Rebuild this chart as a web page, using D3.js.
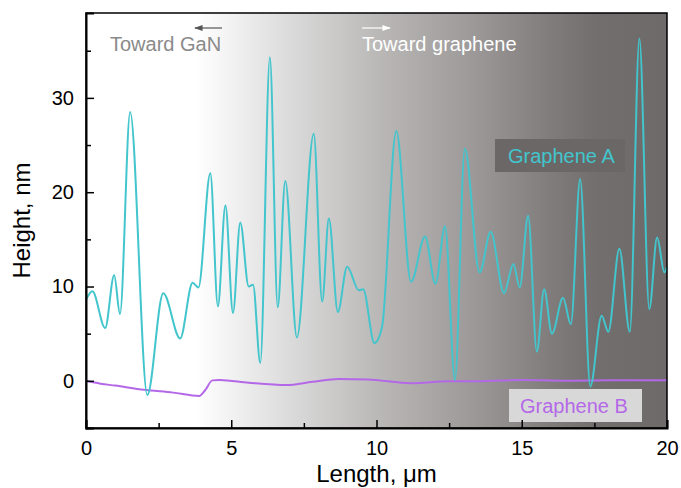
<!DOCTYPE html>
<html>
<head>
<meta charset="utf-8">
<script src="https://cdn.jsdelivr.net/npm/d3@7/dist/d3.min.js"></script>
<style>
  html, body { margin: 0; padding: 0; background: #fff; }
  svg { display: block; font-family: Arial, "Liberation Sans", sans-serif; }
</style>
</head>
<body>
<svg id="chart" width="681" height="488"></svg>
<script>
// Height profile along the line scan (length in µm, height in nm)
const grapheneALength = [0, 0.22, 0.66, 0.97, 1.17, 1.52, 2.11, 2.66, 3.24, 3.67, 3.87, 4.28, 4.54, 4.80, 5.06, 5.31, 5.60, 5.75, 6.00, 6.33, 6.60, 6.86, 7.26, 7.84, 8.13, 8.36, 8.67, 8.99, 9.39, 9.54, 9.93, 10.19, 10.68, 11.19, 11.67, 12.03, 12.36, 12.70, 13.04, 13.55, 13.93, 14.39, 14.71, 14.93, 15.22, 15.52, 15.77, 16.04, 16.42, 16.69, 17.01, 17.36, 17.75, 17.98, 18.36, 18.72, 19.05, 19.39, 19.66, 19.91, 20];
const grapheneAHeight = [8.6, 9.5, 5.6, 11.2, 7.1, 28.5, -1.5, 9.3, 4.5, 10.4, 9.9, 22.0, 7.9, 18.6, 7.2, 16.8, 10.0, 10.2, 1.9, 34.3, 7.8, 21.2, 4.6, 26.2, 8.4, 17.2, 7.3, 12.1, 9.6, 9.7, 4.0, 5.7, 26.5, 10.5, 15.3, 10.3, 16.4, 0.1, 24.6, 11.5, 15.8, 9.3, 12.4, 9.9, 17.5, 3.1, 9.7, 5.0, 8.8, 6.0, 21.4, -0.6, 6.9, 5.2, 14.0, 5.2, 36.3, 7.6, 15.2, 11.5, 12.1];

const grapheneBLength = [0, 0.5, 1, 2, 3, 3.9, 4.1, 4.35, 4.6, 5.6, 6.9, 7.8, 8.7, 9.7, 11.2, 12.5, 13.5, 15, 16.5, 18, 20];
const grapheneBHeight = [0, -0.3, -0.5, -0.95, -1.25, -1.6, -1.0, 0.05, 0.1, -0.2, -0.45, -0.1, 0.2, 0.15, -0.25, -0.05, -0.05, 0.1, 0.0, 0.05, 0.05];

const xTicks = [0, 5, 10, 15, 20];
const xMinorTicks = [2.5, 7.5, 12.5, 17.5];
const yTicks = [0, 10, 20, 30];
const yMinorTicks = [-5, 5, 15, 25, 35];

const svg = d3.select("#chart");
const margin = { left: 86, right: 14, top: 13, bottom: 60 };
const W = 681, H = 488;
const plotW = W - margin.left - margin.right;
const plotH = H - margin.top - margin.bottom;

const x = d3.scaleLinear().domain([0, 20]).range([margin.left, margin.left + plotW]);
const y = d3.scaleLinear().domain([-5, 39]).range([margin.top + plotH, margin.top]);

// Shaded background: white on the GaN side fading to grey toward graphene
const defs = svg.append("defs");
const grad = defs.append("linearGradient").attr("id", "bg").attr("x1", "0").attr("x2", "1").attr("y1", "0").attr("y2", "0");
[[0, "#ffffff"], [0.19, "#ffffff"], [0.32, "#e2e2e2"], [0.5, "#bbb9b8"], [0.66, "#9d9a99"], [0.8, "#807c7b"], [0.88, "#726e6d"], [1, "#6e6a69"]]
  .forEach(([o, c]) => grad.append("stop").attr("offset", o).attr("stop-color", c));

svg.append("rect")
  .attr("x", x(0)).attr("y", y(39))
  .attr("width", x(20) - x(0)).attr("height", y(-5) - y(39))
  .attr("fill", "url(#bg)");

// Direction notes
const arrowY = 28;
defs.append("marker").attr("id", "headDark").attr("viewBox", "0 0 10 10").attr("refX", 9).attr("refY", 5)
  .attr("markerWidth", 7).attr("markerHeight", 7).attr("orient", "auto")
  .append("path").attr("d", "M0,1.5 L10,5 L0,8.5 Z").attr("fill", "#555");
defs.append("marker").attr("id", "headLight").attr("viewBox", "0 0 10 10").attr("refX", 9).attr("refY", 5)
  .attr("markerWidth", 7).attr("markerHeight", 7).attr("orient", "auto")
  .append("path").attr("d", "M0,1.5 L10,5 L0,8.5 Z").attr("fill", "#fff");

svg.append("line").attr("x1", 222).attr("x2", 195).attr("y1", arrowY).attr("y2", arrowY)
  .attr("stroke", "#555").attr("stroke-width", 1.2).attr("marker-end", "url(#headDark)");
svg.append("text").attr("x", 110).attr("y", 51).attr("font-size", 20).attr("fill", "#8a8a8a").text("Toward GaN");

svg.append("line").attr("x1", 362).attr("x2", 390).attr("y1", arrowY).attr("y2", arrowY)
  .attr("stroke", "#fff").attr("stroke-width", 1.2).attr("marker-end", "url(#headLight)");
svg.append("text").attr("x", 362).attr("y", 51).attr("font-size", 20).attr("fill", "#ffffff").text("Toward graphene");

// Profiles
const lineGen = d3.line().curve(d3.curveMonotoneX);
const ptsA = grapheneALength.map((d, i) => [x(d), y(grapheneAHeight[i])]);
const ptsB = grapheneBLength.map((d, i) => [x(d), y(grapheneBHeight[i])]);

svg.append("path").attr("d", lineGen(ptsB)).attr("fill", "none")
  .attr("stroke", "#b468e8").attr("stroke-width", 2);
svg.append("path").attr("d", lineGen(ptsA)).attr("fill", "none")
  .attr("stroke", "#42c5cc").attr("stroke-width", 2);

// Series labels
svg.append("rect").attr("x", 495).attr("y", 139).attr("width", 130).attr("height", 33).attr("fill", "#6b6767");
svg.append("text").attr("x", 508).attr("y", 163).attr("font-size", 20).attr("fill", "#42c5cc").text("Graphene A");

svg.append("rect").attr("x", 509).attr("y", 389).attr("width", 133).attr("height", 33).attr("fill", "#d9d8d8");
svg.append("text").attr("x", 520).attr("y", 413).attr("font-size", 20).attr("fill", "#b468e8").text("Graphene B");

// Frame
svg.append("rect")
  .attr("x", x(0)).attr("y", y(39))
  .attr("width", x(20) - x(0)).attr("height", y(-5) - y(39))
  .attr("fill", "none").attr("stroke", "#000").attr("stroke-width", 1.5);

// Axes with inward ticks
const xAxis = d3.axisBottom(x).tickValues(xTicks).tickSize(-8).tickPadding(13).tickFormat(d3.format("d"));
const gx = svg.append("g").attr("transform", `translate(0,${y(-5)})`).call(xAxis);
gx.select(".domain").attr("stroke-width", 2);
gx.selectAll(".tick line").attr("stroke-width", 1.5);
gx.selectAll("text").attr("font-size", 20).attr("fill", "#000").attr("font-family", "Arial, 'Liberation Sans', sans-serif");
svg.append("g").attr("transform", `translate(0,${y(-5)})`)
  .call(d3.axisBottom(x).tickValues(xMinorTicks).tickSize(-5).tickFormat(""))
  .call(g => g.select(".domain").remove())
  .selectAll(".tick line").attr("stroke-width", 1.5);

const yAxis = d3.axisLeft(y).tickValues(yTicks).tickSize(-8).tickPadding(12).tickFormat(d3.format("d"));
const gy = svg.append("g").attr("transform", `translate(${x(0)},0)`).call(yAxis);
gy.select(".domain").attr("stroke-width", 2);
gy.selectAll(".tick line").attr("stroke-width", 1.5);
gy.selectAll("text").attr("font-size", 20).attr("fill", "#000").attr("font-family", "Arial, 'Liberation Sans', sans-serif");
svg.append("g").attr("transform", `translate(${x(0)},0)`)
  .call(d3.axisLeft(y).tickValues(yMinorTicks).tickSize(-5).tickFormat(""))
  .call(g => g.select(".domain").remove())
  .selectAll(".tick line").attr("stroke-width", 1.5);

// Axis titles
svg.append("text").attr("x", x(10)).attr("y", 482).attr("text-anchor", "middle")
  .attr("font-size", 24).attr("fill", "#000").text("Length, μm");
svg.append("text").attr("transform", `translate(30,${(y(-5) + y(39)) / 2}) rotate(-90)`)
  .attr("text-anchor", "middle").attr("font-size", 24).attr("fill", "#000").text("Height, nm");
</script>
</body>
</html>
